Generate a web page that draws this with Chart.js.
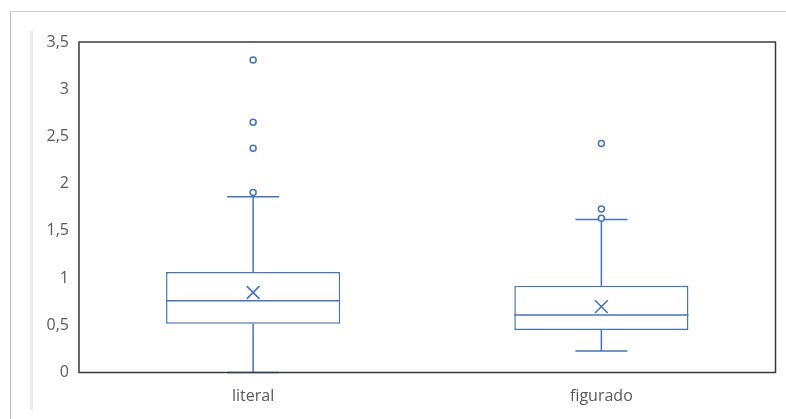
<!DOCTYPE html>
<html>
<head>
<meta charset="utf-8">
<script src="https://cdn.jsdelivr.net/npm/chart.js@4"></script>
<style>
  html, body { margin:0; padding:0; background:#fff; }
  #wrap { position:relative; width:786px; height:419px; }
  #c { position:absolute; left:0; top:0; }
  .edgeTop  { position:absolute; left:10px; top:11px; width:776px; height:1px; background:#cfcfcf; }
  .edgeLeft { position:absolute; left:10px; top:11px; width:1px; height:408px; background:#bdbdbd; }
  .bar      { position:absolute; left:30px; top:31px; width:3px; height:379px; background:#ececec; }
</style>
</head>
<body>
<div id="wrap">
  <div class="edgeTop"></div>
  <div class="edgeLeft"></div>
  <div class="bar"></div>
  <canvas id="c" width="786" height="419"></canvas>
</div>
<script>
// ─── Data ────────────────────────────────────────────────────────────────────
const categories  = ['literal', 'figurado'];
const whiskerLow  = [0.00, 0.228];
const q1          = [0.515, 0.451];
const median      = [0.759, 0.610];
const q3          = [1.064, 0.918];
const whiskerHigh = [1.860, 1.619];
const means       = [0.847, 0.698];
const outLiteral  = [3.31, 2.65, 2.376, 1.905];
const outFigurado = [2.425, 1.732, 1.633];
const yTicks      = [0, 0.5, 1, 1.5, 2, 2.5, 3, 3.5];

// ─── Styles ─────────────────────────────────────────────────────────────────
const BLUE = '#4472c4';
const TXT  = '#595959';
const FONT = { family:'Open Sans', size:16 };

// box = floating bar [q1, q3]
const boxData = categories.map((_, i) => [q1[i], q3[i]]);
const meanData = categories.map((c, i) => ({ x: c, y: means[i] }));
const outlierData = [
  ...outLiteral.map(v => ({ x: categories[0], y: v })),
  ...outFigurado.map(v => ({ x: categories[1], y: v }))
];

// whiskers, caps, median and the frame, drawn through the chart scales
const boxPlugin = {
  id: 'boxParts',
  beforeDatasetsDraw(chart) {
    const { ctx, scales: { x, y } } = chart;
    ctx.save();
    ctx.strokeStyle = BLUE;
    ctx.lineWidth = 1.5;
    categories.forEach((c, i) => {
      const cx = x.getPixelForValue(i);
      const capHalf = 26;
      const yl = y.getPixelForValue(whiskerLow[i]), y1 = y.getPixelForValue(q1[i]);
      const y3 = y.getPixelForValue(q3[i]), yh = y.getPixelForValue(whiskerHigh[i]);
      ctx.beginPath();
      ctx.moveTo(cx, y1); ctx.lineTo(cx, yl);
      ctx.moveTo(cx - capHalf, yl); ctx.lineTo(cx + capHalf, yl);
      ctx.moveTo(cx, y3); ctx.lineTo(cx, yh);
      ctx.moveTo(cx - capHalf, yh); ctx.lineTo(cx + capHalf, yh);
      ctx.stroke();
    });
    ctx.restore();
  },
  afterDatasetsDraw(chart) {
    const { ctx, chartArea: a, scales: { y } } = chart;
    const meta = chart.getDatasetMeta(2);
    ctx.save();
    ctx.strokeStyle = BLUE;
    ctx.lineWidth = 1.5;
    meta.data.forEach((bar, i) => {
      const { x: bx, width } = bar.getProps(['x', 'width'], true);
      const ym = y.getPixelForValue(median[i]);
      ctx.beginPath();
      ctx.moveTo(bx - width / 2, ym); ctx.lineTo(bx + width / 2, ym);
      ctx.stroke();
    });
    // plot frame
    ctx.strokeStyle = '#3a3a3a';
    ctx.lineWidth = 1.5;
    ctx.strokeRect(a.left, a.top, a.right - a.left, a.bottom - a.top);
    ctx.restore();
  }
};

new Chart(document.getElementById('c'), {
  type: 'bar',
  data: {
    labels: categories,
    datasets: [
      {
        type: 'line', label: 'media', data: meanData, order: 1,
        showLine: false, pointStyle: 'crossRot', pointRadius: 9,
        borderColor: BLUE, borderWidth: 1.5, pointBorderWidth: 1.5
      },
      {
        type: 'line', label: 'atípicos', data: outlierData, order: 2,
        showLine: false, pointStyle: 'circle', pointRadius: 3,
        borderColor: BLUE, backgroundColor: '#fff', pointBorderWidth: 1.5
      },
      {
        label: 'caja', data: boxData, order: 3,
        backgroundColor: '#fff', borderColor: BLUE, borderWidth: 1.5,
        borderSkipped: false, barPercentage: 0.5, categoryPercentage: 1
      }
    ]
  },
  options: {
    responsive: false,
    animation: false,
    layout: { padding: { top: 42, right: 8, left: 0, bottom: 0 } },
    plugins: { legend: { display: false }, tooltip: { enabled: false } },
    scales: {
      x: {
        grid: { display: false, drawTicks: false },
        border: { display: false },
        ticks: { color: TXT, font: FONT, padding: 14 },
        afterFit(s) { s.height = 46.5; }
      },
      y: {
        min: 0, max: 3.5,
        grid: { display: false, drawTicks: false },
        border: { display: false },
        afterBuildTicks(s) { s.ticks = yTicks.map(v => ({ value: v })); },
        ticks: {
          color: TXT, font: FONT, padding: 10,
          callback: v => String(v).replace('.', ',')
        },
        afterFit(s) { s.width = 79; }
      }
    }
  },
  plugins: [boxPlugin]
});
</script>
</body>
</html>
